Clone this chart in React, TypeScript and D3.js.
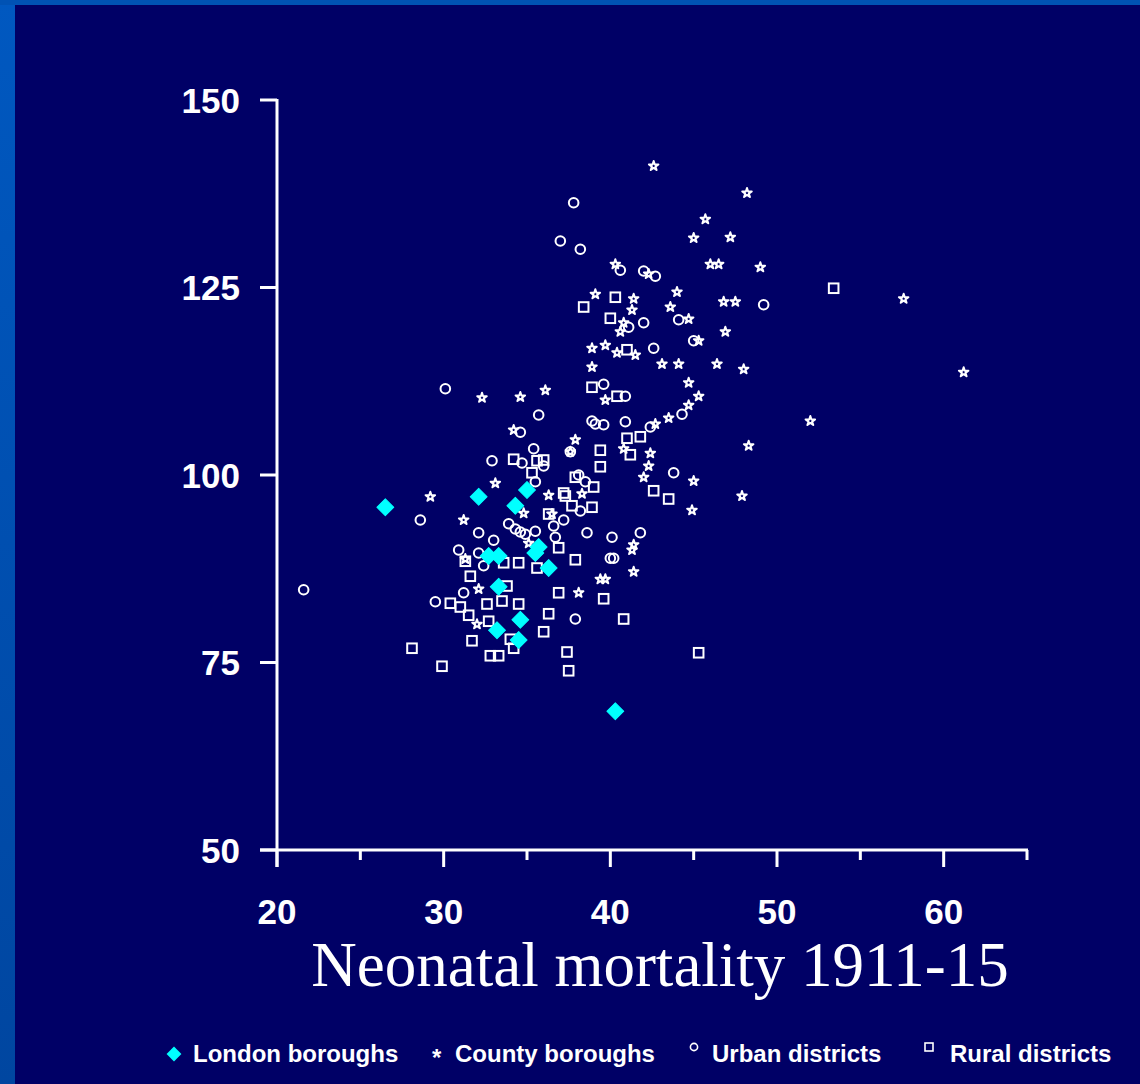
import React from "react";
import * as d3 from "d3";

const londonBoroughs: [number, number][] = [
  [26.5, 95.7], [32.1, 97.1], [35.0, 98.0], [34.3, 95.9], [32.7, 89.2], [33.3, 89.2], [35.7, 90.4],
  [35.5, 89.6], [36.3, 87.6], [33.3, 85.1], [34.6, 80.7], [33.2, 79.3], [34.5, 78.0], [40.3, 68.5],
];

const countyBoroughs: [number, number][] = [
  [42.6, 141.2], [48.2, 137.6], [45.7, 134.1], [45.0, 131.6], [47.2, 131.7], [46.0, 128.1], [46.5, 128.1],
  [49.0, 127.7], [40.3, 128.1], [42.3, 126.8], [44.0, 124.4], [39.1, 124.1], [41.4, 123.5], [41.3, 122.0],
  [43.6, 122.4], [46.8, 123.1], [47.5, 123.1], [40.8, 120.3], [44.7, 120.8], [46.9, 119.1], [40.6, 119.1],
  [45.3, 117.9], [38.9, 116.9], [39.7, 117.3], [40.4, 116.3], [41.5, 116.0], [38.9, 114.4], [43.1, 114.8],
  [44.1, 114.8], [46.4, 114.8], [48.0, 114.1], [36.1, 111.3], [44.7, 112.3], [45.3, 110.5], [39.7, 110.0],
  [44.7, 109.3], [32.3, 110.3], [34.6, 110.4], [57.6, 123.5], [61.2, 113.7], [52.0, 107.2], [43.5, 107.6],
  [42.7, 106.8], [37.9, 104.7], [37.6, 103.1], [40.8, 103.5], [42.4, 102.9], [42.3, 101.2], [42.0, 99.7],
  [45.0, 99.2], [48.3, 103.9], [47.9, 97.2], [44.9, 95.3], [36.3, 97.3], [38.3, 97.5], [36.5, 94.8],
  [41.4, 90.7], [41.3, 90.0], [41.4, 87.1], [39.4, 86.1], [39.7, 86.1], [38.1, 84.3], [34.2, 106.0],
  [33.1, 98.9], [34.8, 94.9], [29.2, 97.1], [31.2, 94.0], [35.1, 90.9], [31.3, 88.8], [32.1, 84.8],
  [32.0, 80.1],
];

const urbanDistricts: [number, number][] = [
  [37.8, 136.3], [37.0, 131.2], [38.2, 130.1], [40.6, 127.3], [42.0, 127.2], [42.7, 126.5], [49.2, 122.7],
  [41.1, 119.7], [42.0, 120.3], [44.1, 120.7], [45.0, 117.9], [42.6, 116.9], [39.6, 112.1], [40.9, 110.5],
  [30.1, 111.5], [44.3, 108.1], [35.7, 108.0], [38.9, 107.2], [39.1, 106.8], [39.6, 106.7], [40.9, 107.1],
  [42.4, 106.4], [37.6, 103.1], [35.4, 103.5], [36.0, 101.2], [35.5, 99.1], [38.1, 100.0], [38.5, 99.1],
  [43.8, 100.3], [38.2, 95.2], [37.2, 94.0], [36.6, 93.2], [35.5, 92.5], [36.7, 91.7], [38.6, 92.3],
  [40.1, 91.7], [41.8, 92.3], [40.0, 88.9], [40.2, 88.9], [37.9, 80.8], [34.6, 105.7], [32.9, 101.9],
  [34.7, 101.6], [28.6, 94.0], [32.1, 92.3], [33.0, 91.3], [33.9, 93.5], [34.3, 92.8], [34.6, 92.4],
  [34.9, 92.1], [30.9, 90.0], [32.1, 89.6], [32.4, 87.9], [31.2, 84.3], [21.6, 84.7], [29.5, 83.1],
];

const ruralDistricts: [number, number][] = [
  [53.4, 124.9], [40.3, 123.7], [38.4, 122.4], [40.0, 120.9], [41.0, 116.7], [38.9, 111.7], [40.4, 110.5],
  [41.0, 104.9], [41.8, 105.1], [39.4, 103.3], [41.2, 102.7], [39.4, 101.1], [42.6, 97.9], [43.5, 96.8],
  [35.6, 101.9], [36.0, 102.0], [34.2, 102.1], [35.3, 100.3], [37.9, 99.7], [39.0, 98.4], [37.2, 97.6],
  [37.3, 97.2], [37.7, 95.9], [38.9, 95.7], [36.3, 94.8], [36.9, 90.3], [35.6, 87.6], [37.9, 88.7],
  [36.9, 84.3], [39.6, 83.5], [31.3, 88.5], [33.6, 88.3], [34.5, 88.3], [31.6, 86.5], [33.8, 85.2],
  [30.4, 82.9], [31.0, 82.4], [31.5, 81.3], [32.6, 82.8], [33.5, 83.2], [34.5, 82.8], [32.7, 80.5],
  [36.3, 81.5], [40.8, 80.8], [31.7, 77.9], [34.0, 78.1], [34.2, 76.9], [36.0, 79.1], [28.1, 76.9],
  [32.8, 75.9], [33.3, 75.9], [29.9, 74.5], [37.4, 76.4], [37.5, 73.9], [45.3, 76.3],
];

const xMajorTicks = [20, 30, 40, 50, 60];
const xMinorTicks = [25, 35, 45, 55, 65];
const yTicks = [50, 75, 100, 125, 150];
const xTitle = "Neonatal mortality 1911-15";
const legendLabels = ["London boroughs", "County boroughs", "Urban districts", "Rural districts"];

const W = 1140;
const H = 1084;
const BG = "#000066";
const SANS = "'Liberation Sans', Arial, Helvetica, sans-serif";
const SERIF = "'Liberation Serif', 'Times New Roman', Times, serif";

export default function App() {
  const x = d3.scaleLinear().domain([20, 65]).range([277, 1027]);
  const y = d3.scaleLinear().domain([50, 150]).range([850, 100]);

  const starPath = d3.symbol().type(d3.symbolStar).size(28)() as string;
  const diamondPath = d3.symbol().type(d3.symbolSquare).size(144)() as string;
  const legendDiamond = d3.symbol().type(d3.symbolSquare).size(110)() as string;

  return (
    <svg
      width={W}
      height={H}
      style={{ position: "absolute", left: 0, top: 0, display: "block" }}
    >
      <defs>
        <linearGradient id="edge" x1="0" y1="0" x2="0" y2="1">
          <stop offset="0" stopColor="#0058C0" />
          <stop offset="1" stopColor="#0046A0" />
        </linearGradient>
      </defs>
      <rect x={0} y={0} width={W} height={H} fill={BG} />
      <rect x={0} y={0} width={15} height={H} fill="url(#edge)" />
      <rect x={0} y={0} width={W} height={5} fill="#0052B4" />

      {/* axes */}
      <g stroke="#fff" strokeWidth={3} fill="none">
        <line x1={x(20)} x2={x(20)} y1={y(150) - 1} y2={y(50) + 17} />
        <line x1={x(20) - 17} x2={x(65) + 1} y1={y(50)} y2={y(50)} />
        {yTicks.map((t) => (
          <line key={"yt" + t} x1={x(20) - 17} x2={x(20)} y1={y(t)} y2={y(t)} />
        ))}
        {xMajorTicks.map((t) => (
          <line key={"xt" + t} x1={x(t)} x2={x(t)} y1={y(50)} y2={y(50) + 17} />
        ))}
        {xMinorTicks.map((t) => (
          <line key={"xm" + t} x1={x(t)} x2={x(t)} y1={y(50)} y2={y(50) + 10} />
        ))}
      </g>
      <g fill="#fff" fontFamily={SANS} fontWeight="bold" fontSize={35}>
        {yTicks.map((t) => (
          <text key={"yl" + t} x={240} y={y(t)} dy="0.36em" textAnchor="end">
            {t}
          </text>
        ))}
        {xMajorTicks.map((t) => (
          <text key={"xl" + t} x={x(t)} y={924} textAnchor="middle">
            {t}
          </text>
        ))}
      </g>
      <text x={660} y={986} textAnchor="middle" fill="#fff" fontFamily={SERIF} fontSize={63}>
        {xTitle}
      </text>

      {/* points */}
      <g fill="none" stroke="#fff" strokeWidth={2}>
        {ruralDistricts.map((d, i) => (
          <rect key={"r" + i} x={x(d[0]) - 4.8} y={y(d[1]) - 4.8} width={9.6} height={9.6} />
        ))}
        {urbanDistricts.map((d, i) => (
          <circle key={"u" + i} cx={x(d[0])} cy={y(d[1])} r={4.8} />
        ))}
        {countyBoroughs.map((d, i) => (
          <path key={"c" + i} d={starPath} transform={`translate(${x(d[0])},${y(d[1])})`} strokeLinejoin="round" />
        ))}
      </g>
      <g fill="#00FFFF" stroke="#00FFFF" strokeWidth={1} strokeLinejoin="round">
        {londonBoroughs.map((d, i) => (
          <path key={"l" + i} d={diamondPath} transform={`translate(${x(d[0])},${y(d[1])}) rotate(45)`} />
        ))}
      </g>

      {/* legend */}
      <g fontFamily={SANS} fontWeight="bold" fontSize={24} fill="#fff">
        <path d={legendDiamond} transform="translate(174,1054) rotate(45)" fill="#00FFFF" />
        <text x={193} y={1062}>{legendLabels[0]}</text>
        <text x={432} y={1066} fontSize={24}>*</text>
        <text x={455} y={1062}>{legendLabels[1]}</text>
        <circle cx={694} cy={1047} r={3.6} fill="none" stroke="#fff" strokeWidth={1.6} />
        <text x={712} y={1062}>{legendLabels[2]}</text>
        <rect x={925} y={1043} width={8} height={8} fill="none" stroke="#fff" strokeWidth={1.6} />
        <text x={950} y={1062}>{legendLabels[3]}</text>
      </g>
    </svg>
  );
}
